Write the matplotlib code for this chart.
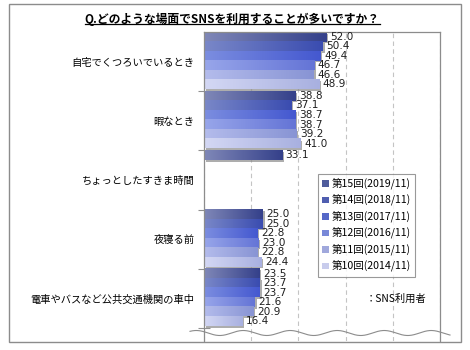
import numpy as np
import matplotlib
matplotlib.use('Agg')
import matplotlib.pyplot as plt
from matplotlib.colors import LinearSegmentedColormap
from matplotlib.patches import Rectangle, Patch
from matplotlib import patheffects
from matplotlib.lines import Line2D

plt.rcParams['font.family'] = ['Noto Sans CJK JP', 'DejaVu Sans']

# data
categories = ['自宅でくつろいでいるとき', '暇なとき', 'ちょっとしたすきま時間',
              '夜寝る前', '電車やバスなど公共交通機関の車中']
series_names = ['第15回(2019/11)', '第14回(2018/11)', '第13回(2017/11)',
                '第12回(2016/11)', '第11回(2015/11)', '第10回(2014/11)']
nan = np.nan
v2019 = [52.0, 38.8, 33.1, 25.0, 23.5]
v2018 = [50.4, 37.1, nan, 25.0, 23.7]
v2017 = [49.4, 38.7, nan, 22.8, 23.7]
v2016 = [46.7, 38.7, nan, 23.0, 21.6]
v2015 = [46.6, 39.2, nan, 22.8, 20.9]
v2014 = [48.9, 41.0, nan, 24.4, 16.4]
values = [v2019, v2018, v2017, v2016, v2015, v2014]

# gradient colours (left -> right) and legend colours
grad_colors = [('#8088b8', '#34408a'), ('#7a88c8', '#3a4cb0'), ('#7c8ee0', '#4458d0'),
               ('#98a6ea', '#6474d6'), ('#b4bcec', '#8894d4'), ('#d4d8f4', '#a8b0e0')]
legend_colors = ['#4f5c9c', '#4f5eb0', '#5668c8', '#7888d8', '#a0a8dc', '#c8ccec']

W, H = 470, 350
fig = plt.figure(figsize=(W / 100, H / 100), dpi=100)
ax = fig.add_axes([204 / W, 1 - 341 / H, (440 - 204) / W, (341 - 32) / H])

bar_h = 0.161
y_base = np.arange(len(categories))
for i, vals in enumerate(values):
    ys = y_base + (i + 0.5) * bar_h
    bars = ax.barh(ys, np.nan_to_num(vals), height=bar_h, facecolor='none',
                   edgecolor='none', zorder=1.5)
    cmap = LinearSegmentedColormap.from_list('g%d' % i, grad_colors[i])
    for b, v in zip(bars, vals):
        if np.isnan(v):
            b.set_visible(False)
            continue
        b.set_path_effects([patheffects.SimplePatchShadow(offset=(1.2, -1.2),
                                                          shadow_rgbFace='#8a8a8a', alpha=0.7)])
        x0, y0, w, h = b.get_x(), b.get_y(), b.get_width(), b.get_height()
        ax.imshow(np.linspace(0, 1, 256).reshape(1, -1), extent=[x0, x0 + w, y0 + h, y0],
                  aspect='auto', cmap=cmap, zorder=2, interpolation='bilinear')
        ax.annotate('%.1f' % v, (x0 + w, y0 + h / 2), xytext=(2.5, 0),
                    textcoords='offset points', ha='left', va='center',
                    fontsize=7.6, family='DejaVu Sans', color='#202020', zorder=3)

ax.set_xlim(0, 100)
ax.set_ylim(5.22, 0)
ax.set_xticks([0, 20, 40, 60, 80, 100])
ax.xaxis.grid(True, linestyle=(0, (4, 3)), color='#c4c4c4', linewidth=0.8)
ax.set_axisbelow(True)
ax.tick_params(axis='x', length=0, labelbottom=False)
ax.set_yticks(y_base + 0.5)
ax.set_yticklabels(categories, fontsize=7.4)
ax.tick_params(axis='y', which='major', length=0, pad=7)
ax.set_yticks(np.arange(1, len(categories) + 1), minor=True)
ax.tick_params(axis='y', which='minor', direction='inout', length=8, width=0.8, color='#909090')
for s in ['left', 'top', 'right']:
    ax.spines[s].set_color('#8c8c8c')
    ax.spines[s].set_linewidth(0.9)
ax.spines['bottom'].set_visible(False)

# wavy break line (figure pixel space)
wx = np.linspace(190, 450, 400)
wy = 333 + 2.5 * np.sin(2 * np.pi * (wx - 208) / 47)
fig.add_artist(Line2D(wx / W, 1 - wy / H, transform=fig.transFigure,
                      color='#8c8c8c', lw=0.8, zorder=5))

# legend
handles = [Patch(facecolor=c, edgecolor='none') for c in legend_colors]
leg = fig.legend(handles, series_names, loc='upper left',
                 bbox_to_anchor=(318 / W, 1 - 174 / H), borderaxespad=0,
                 fontsize=7.6, frameon=True, fancybox=False, handlelength=0.6,
                 handleheight=0.6, handletextpad=0.3, labelspacing=0.48,
                 borderpad=0.4)
leg.get_frame().set_edgecolor('#808080')
leg.get_frame().set_linewidth(0.8)

fig.text(426 / W, 1 - 299 / H, '：SNS利用者', ha='right', va='center', fontsize=7.4)

# title with underline
title = fig.text(232 / W, 1 - 19 / H, 'Q.どのような場面でSNSを利用することが多いですか？',
                 ha='center', va='center', fontsize=8.5, fontweight='bold')
fig.canvas.draw()
bb = title.get_window_extent().transformed(fig.transFigure.inverted())
fig.add_artist(Line2D([bb.x0, bb.x1], [bb.y0 + 0.004, bb.y0 + 0.004],
                      transform=fig.transFigure, color='black', lw=0.9))

# outer frame
fig.add_artist(Rectangle((9 / W, 1 - 342 / H), (461 - 9) / W, (342 - 4) / H,
                         transform=fig.transFigure, fill=False,
                         edgecolor='#8c8c8c', lw=1))

fig.savefig('out.png', dpi=100)
